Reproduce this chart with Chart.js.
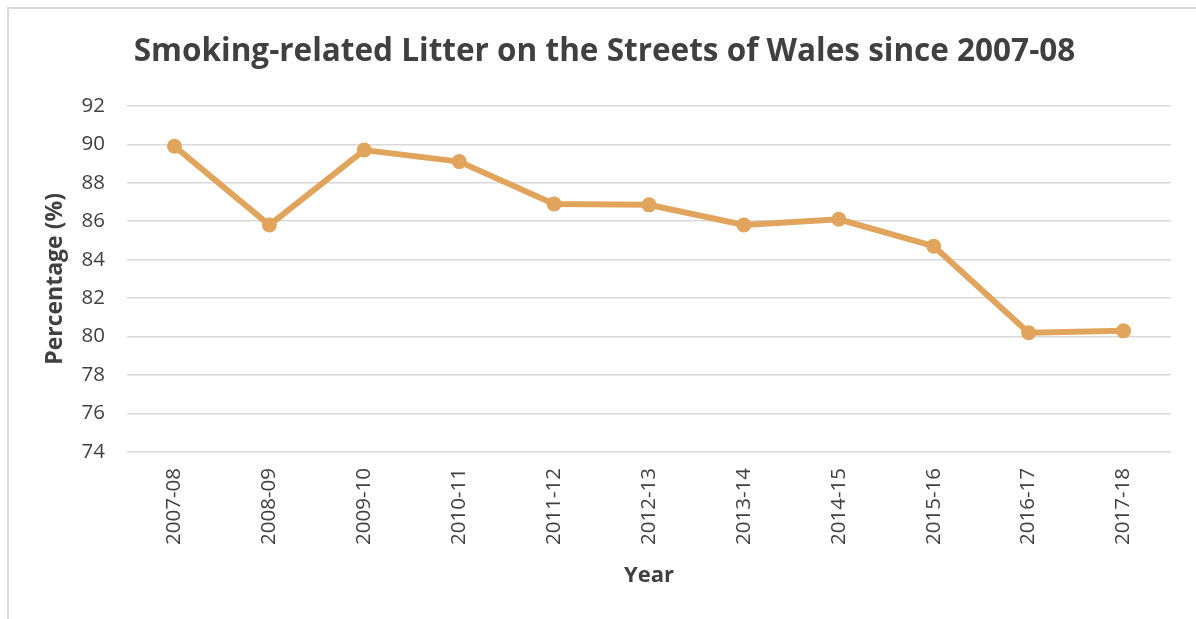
<!DOCTYPE html>
<html>
<head>
<meta charset="utf-8">
<title>Smoking-related Litter</title>
<script src="https://cdn.jsdelivr.net/npm/chart.js"></script>
<style>
  html, body { margin: 0; padding: 0; background: #ffffff; }
  body { width: 1196px; height: 619px; position: relative; overflow: hidden; }
  .frame {
    position: absolute; left: 7px; top: 7px; right: -10px; bottom: -10px;
    border-left: 2px solid #d9d9d9; border-top: 2px solid #d9d9d9;
  }
  #litterChart { position: absolute; left: 0; top: 0; }
</style>
</head>
<body>
<div class="frame"></div>
<canvas id="litterChart" width="1196" height="619"></canvas>

<script>
// Survey years and share of streets with smoking-related litter (%)
const YEARS = ['2007-08', '2008-09', '2009-10', '2010-11', '2011-12', '2012-13',
               '2013-14', '2014-15', '2015-16', '2016-17', '2017-18'];
const LITTER_PCT = [89.9, 85.8, 89.7, 89.1, 86.9, 86.85, 85.8, 86.1, 84.7, 80.2, 80.3];
const Y_MIN = 74;
const Y_MAX = 92;
const Y_STEP = 2;

const TEXT = '#404040';
const LINE = '#E1A45C';

const ctx = document.getElementById('litterChart').getContext('2d');
const chart = new Chart(ctx, {
    type: 'line',
    data: {
        labels: YEARS,
        datasets: [{
            label: 'Smoking-related litter',
            data: LITTER_PCT,
            borderColor: LINE,
            backgroundColor: LINE,
            borderWidth: 6,
            pointRadius: 7.5,
            pointHoverRadius: 7.5,
            pointBorderWidth: 0,
            tension: 0
        }]
    },
    options: {
        responsive: false,
        animation: false,
        layout: {
            padding: { left: 38, right: 25, top: 0, bottom: 24 }
        },
        plugins: {
            legend: { display: false },
            tooltip: { enabled: false },
            title: {
                display: true,
                text: 'Smoking-related Litter on the Streets of Wales since 2007-08',
                color: TEXT,
                font: { family: 'Open Sans', size: 31.5, weight: 'bold' },
                padding: { top: 33, bottom: 35 }
            }
        },
        scales: {
            y: {
                min: Y_MIN,
                max: Y_MAX,
                afterFit: function(scale) { scale.width = 89; },
                ticks: {
                    stepSize: Y_STEP,
                    color: TEXT,
                    padding: 22,
                    font: { family: 'Open Sans', size: 20.5 }
                },
                grid: {
                    color: '#d9d9d9',
                    lineWidth: 1.5,
                    drawTicks: false
                },
                border: { display: false },
                title: {
                    display: true,
                    text: 'Percentage (%)',
                    color: TEXT,
                    padding: { top: 4, bottom: 0 },
                    font: { family: 'Open Sans', size: 23, weight: 'bold' }
                }
            },
            x: {
                offset: true,
                afterFit: function(scale) { scale.height = 619 - 452 - 24; },
                ticks: {
                    color: TEXT,
                    padding: 16,
                    minRotation: 90,
                    maxRotation: 90,
                    autoSkip: false,
                    font: { family: 'Open Sans', size: 20.5 }
                },
                grid: { display: false, drawTicks: false },
                border: { display: false },
                title: {
                    display: true,
                    text: 'Year',
                    color: TEXT,
                    padding: { top: 0, bottom: 6 },
                    font: { family: 'Open Sans', size: 22, weight: 'bold' }
                }
            }
        }
    }
});
</script>
</body>
</html>
